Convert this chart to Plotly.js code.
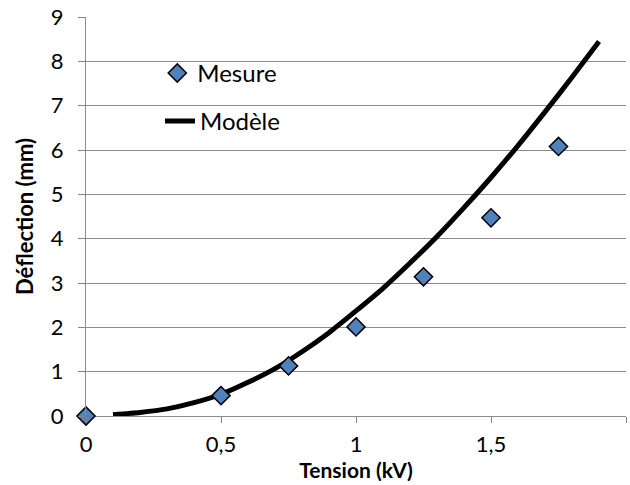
<!DOCTYPE html>
<html>
<head>
<meta charset="utf-8">
<script src="https://cdn.plot.ly/plotly-3.0.1.min.js"></script>
<style>html,body{margin:0;padding:0;background:#fff;}#chart{width:630px;height:485px;}</style>
</head>
<body>
<div id="chart"></div>
<script>
const mesureX = [0, 0.5, 0.75, 1.0, 1.25, 1.5, 1.75];
const mesureY = [0, 0.46, 1.13, 2.01, 3.14, 4.47, 6.08];
const modeleX = [0.1, 0.2, 0.3, 0.4, 0.5, 0.6, 0.7, 0.8, 0.9, 1.0, 1.1, 1.2, 1.3, 1.4, 1.5, 1.6, 1.7, 1.8, 1.9];
const modeleY = [0.03, 0.08, 0.16, 0.30, 0.49, 0.76, 1.07, 1.45, 1.88, 2.37, 2.88, 3.45, 4.05, 4.70, 5.38, 6.10, 6.86, 7.64, 8.45];
const xTicks = [0, 0.5, 1, 1.5, 2];
const xTickText = ['0', '0,5', '1', '1,5', '2'];
const yTicks = [0, 1, 2, 3, 4, 5, 6, 7, 8, 9];

const FONT = 'Lato, "Open Sans", sans-serif';

const traces = [
  {
    x: modeleX, y: modeleY, type: 'scatter', mode: 'lines', name: 'Modèle',
    line: {color: '#000000', width: 5, shape: 'spline', smoothing: 0.6},
    legend: 'legend2'
  },
  {
    x: mesureX, y: mesureY, type: 'scatter', mode: 'markers', name: 'Mesure',
    marker: {symbol: 'diamond', size: 14, color: '#4f81bd', line: {color: '#000000', width: 1.5}},
    legend: 'legend', cliponaxis: false
  }
];

const layout = {
  width: 630, height: 485,
  margin: {l: 86, r: 4, t: 17, b: 69},
  paper_bgcolor: '#ffffff', plot_bgcolor: '#ffffff',
  font: {family: FONT, size: 23, color: '#000000'},
  showlegend: true,
  xaxis: {
    range: [0, 2], tickvals: xTicks, ticktext: xTickText,
    showgrid: false, zeroline: false,
    showline: false,
    ticks: 'outside', ticklen: 6, tickcolor: '#868686', tickwidth: 1,
    ticklabelstandoff: 3,
    tickfont: {family: FONT, size: 22},
    title: {text: '<b>Tension (kV)</b>', font: {family: FONT, size: 21}, standoff: 2}
  },
  yaxis: {
    range: [0, 9], tickvals: yTicks,
    showgrid: true, gridcolor: '#8c8c8c', gridwidth: 1,
    zeroline: true, zerolinecolor: '#8c8c8c', zerolinewidth: 1,
    showline: true, linecolor: '#8c8c8c', linewidth: 1,
    ticks: 'outside', ticklen: 7, tickcolor: '#868686',
    ticklabelstandoff: 10,
    tickfont: {family: FONT, size: 22},
    title: {text: '<b>Déflection (mm)</b>', font: {family: FONT, size: 22}, standoff: 11}
  },
  legend: {
    x: 0.132, y: 0.915, xanchor: 'left', yanchor: 'top',
    bgcolor: 'rgba(0,0,0,0)', font: {family: FONT, size: 24}
  },
  legend2: {
    x: 0.137, y: 0.795, xanchor: 'left', yanchor: 'top',
    bgcolor: 'rgba(0,0,0,0)', font: {family: FONT, size: 24}
  }
};

Plotly.newPlot('chart', traces, layout, {displayModeBar: false, staticPlot: true});
</script>
</body>
</html>
